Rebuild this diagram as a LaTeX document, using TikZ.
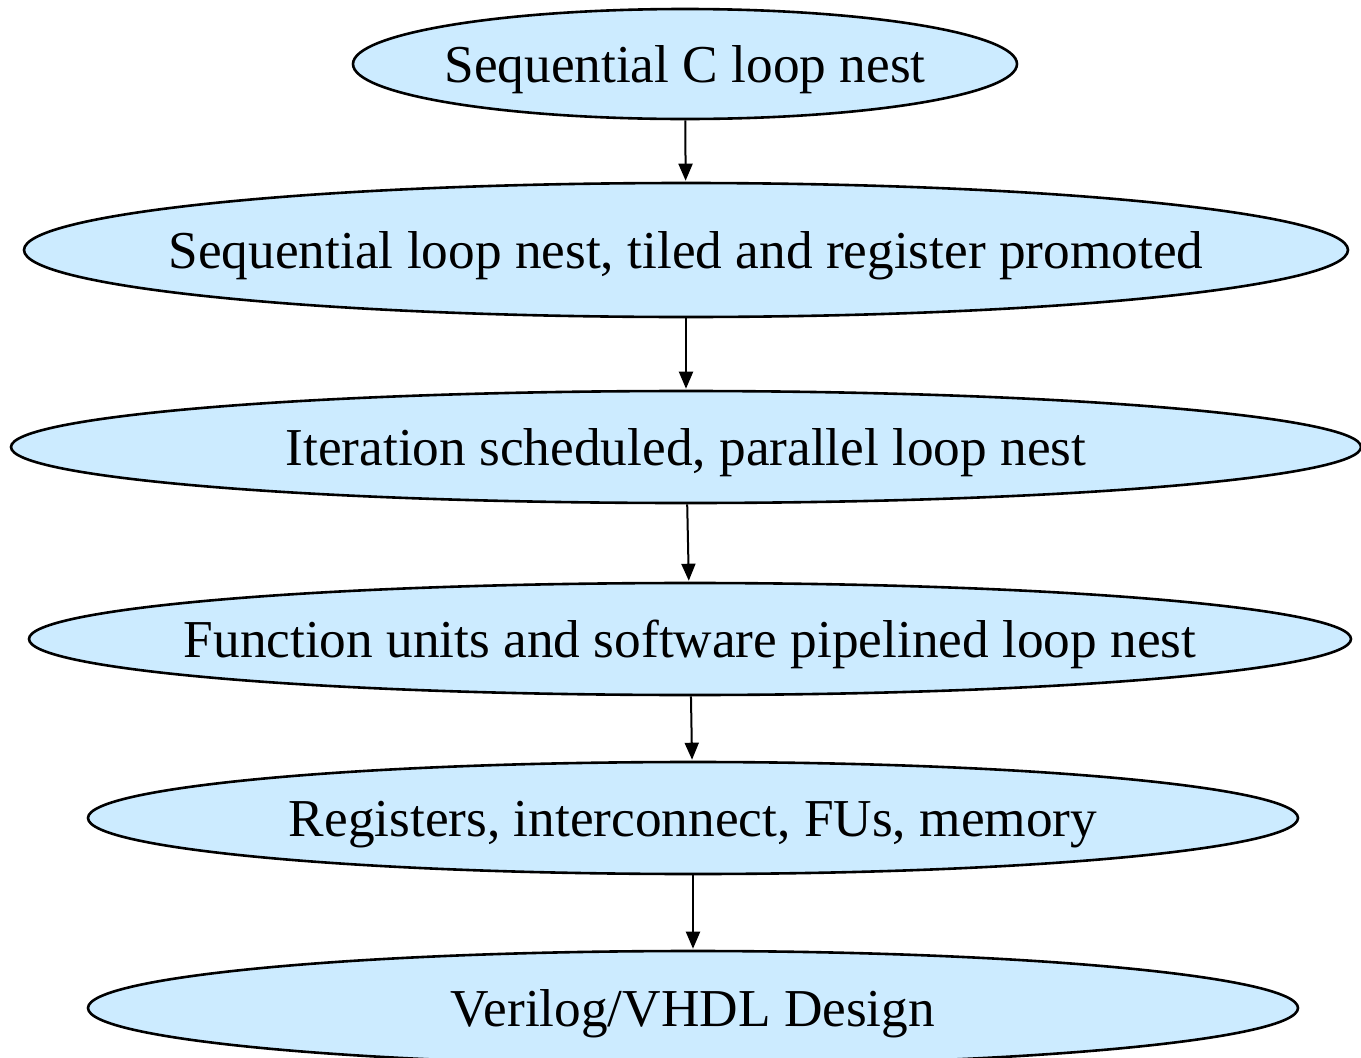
\documentclass[tikz,border=0pt]{standalone}
\usepackage{fontspec}
\setmainfont{Liberation Serif}
\usetikzlibrary{shapes.geometric,arrows.meta}
\definecolor{stagefill}{RGB}{204,235,255}
% zero-width label box, so that the ellipse keeps its set size
\newcommand{\stagetext}[1]{\makebox[0pt]{#1}}
\tikzset{
  stage/.style={ellipse, draw=black, line width=2.6pt, fill=stagefill,
    inner sep=0pt, text height=42pt, text depth=6pt,
    font=\fontsize{53.3}{60}\selectfont},
  flow/.style={draw=black, line width=2pt,
    -{Triangle[length=17pt,width=14pt]}, shorten >=1pt}
}
\begin{document}
\begin{tikzpicture}[x=1pt,y=-1pt]
  \useasboundingbox (0,0) rectangle (1361,1058);
  \node[stage, minimum width=664pt,  minimum height=110pt] (c)    at (685,64)   {\stagetext{Sequential C loop nest}};
  \node[stage, minimum width=1324pt, minimum height=134pt] (tile) at (686,250)  {\stagetext{Sequential loop nest, tiled and register promoted}};
  \node[stage, minimum width=1350pt, minimum height=112pt] (par)  at (686,447)  {\stagetext{Iteration scheduled, parallel loop nest}};
  \node[stage, minimum width=1322pt, minimum height=112pt] (fu)   at (690,639)  {\stagetext{Function units and software pipelined loop nest}};
  \node[stage, minimum width=1210pt, minimum height=112pt] (reg)  at (693,818)  {\stagetext{Registers, interconnect, FUs, memory}};
  \node[stage, minimum width=1210pt, minimum height=114pt] (hdl)  at (693,1008) {\stagetext{Verilog/VHDL Design}};
  \draw[flow] (c)    -- (tile);
  \draw[flow] (tile) -- (par);
  \draw[flow] (par)  -- (fu);
  \draw[flow] (fu)   -- (reg);
  \draw[flow] (reg)  -- (hdl);
\end{tikzpicture}
\end{document}
